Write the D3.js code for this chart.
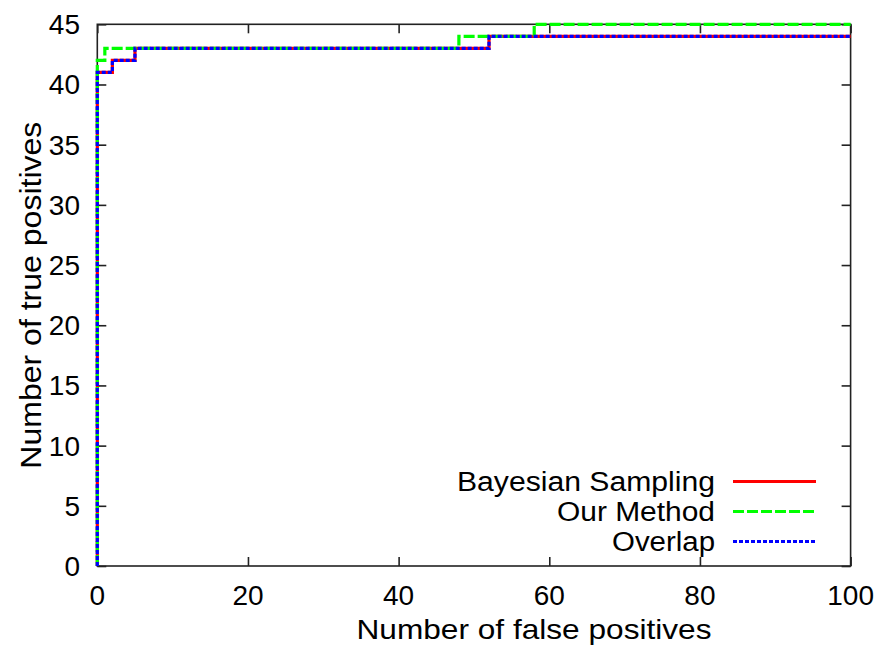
<!DOCTYPE html>
<html>
<head>
<meta charset="utf-8">
<script src="https://cdn.jsdelivr.net/npm/d3@7"></script>
<style>
  html, body { margin: 0; padding: 0; background: #fff; }
  svg { display: block; font-family: "Liberation Sans", Arial, sans-serif; }
</style>
</head>
<body>
<svg id="chart" width="887" height="646"></svg>
<script>
// ---- data ----
const bayesFP = [0, 0, 2, 5, 52, 100];
const bayesTP = [0, 41, 42, 43, 44, 44];
const oursFP = [0, 0, 1, 48, 58, 100];
const oursTP = [0, 42, 43, 44, 45, 45];
const overlapFP = [0, 0, 2, 5, 52, 100];
const overlapTP = [0, 41, 42, 43, 44, 44];
const seriesNames = ["Bayesian Sampling", "Our Method", "Overlap"];
const xTicks = [0, 20, 40, 60, 80, 100];
const yTicks = [0, 5, 10, 15, 20, 25, 30, 35, 40, 45];
const xTitle = "Number of false positives";
const yTitle = "Number of true positives";

const svg = d3.select("#chart");
const L = 97.3, R = 850.6, T = 24.3, B = 566;
const x = d3.scaleLinear().domain([0, 100]).range([L, R]);
const y = d3.scaleLinear().domain([0, 45]).range([B, T]);
const tickLen = 9;

// border
svg.append("rect").attr("x", L).attr("y", T).attr("width", R - L).attr("height", B - T)
  .attr("fill", "none").attr("stroke", "#222").attr("stroke-width", 1.6);

// axes with inward ticks + mirrored
const gx = svg.append("g").attr("transform", `translate(0,${B})`)
  .call(d3.axisTop(x).tickValues(xTicks).tickSize(tickLen).tickFormat(""));
const gxTop = svg.append("g").attr("transform", `translate(0,${T})`)
  .call(d3.axisBottom(x).tickValues(xTicks).tickSize(tickLen).tickFormat(""));
const gy = svg.append("g").attr("transform", `translate(${L},0)`)
  .call(d3.axisRight(y).tickValues(yTicks).tickSize(tickLen).tickFormat(""));
const gyR = svg.append("g").attr("transform", `translate(${R},0)`)
  .call(d3.axisLeft(y).tickValues(yTicks).tickSize(tickLen).tickFormat(""));
[gx, gxTop, gy, gyR].forEach(g => {
  g.select(".domain").remove();
  g.selectAll(".tick line").attr("stroke", "#222").attr("stroke-width", 1.6);
});

// tick labels
svg.append("g").selectAll("text").data(xTicks).join("text")
  .attr("x", d => x(d)).attr("y", 605).attr("text-anchor", "middle")
  .attr("font-size", 28).attr("fill", "#000").text(d => d);
svg.append("g").selectAll("text").data(yTicks).join("text")
  .attr("x", 80).attr("y", d => y(d) + 10).attr("text-anchor", "end")
  .attr("font-size", 28).attr("fill", "#000").text(d => d);

// axis titles
svg.append("text").attr("x", 534).attr("y", 639).attr("text-anchor", "middle")
  .attr("font-size", 28).attr("textLength", 355).attr("lengthAdjust", "spacingAndGlyphs")
  .text(xTitle);
svg.append("text").attr("transform", `translate(41,${(T + B) / 2}) rotate(-90)`)
  .attr("text-anchor", "middle").attr("font-size", 29)
  .attr("textLength", 347).attr("lengthAdjust", "spacingAndGlyphs")
  .text(yTitle);

// lines
const line = d3.line().x(d => x(d[0])).y(d => y(d[1])).curve(d3.curveStepAfter);
const zip = (a, b) => a.map((v, i) => [v, b[i]]);
const series = [
  { name: seriesNames[0], pts: zip(bayesFP, bayesTP), color: "#ff0000", dash: null },
  { name: seriesNames[1], pts: zip(oursFP, oursTP), color: "#00ff00", dash: "11,3" },
  { name: seriesNames[2], pts: zip(overlapFP, overlapTP), color: "#0000ff", dash: "4,2" }
];
series.forEach(s => {
  svg.append("path").attr("d", line(s.pts)).attr("fill", "none")
    .attr("stroke", s.color).attr("stroke-width", 3.2)
    .attr("stroke-dasharray", s.dash);
});

// legend
const legY = [481.5, 511.5, 541.5];
const legW = [258, 158, 103];
series.forEach((s, i) => {
  svg.append("text").attr("x", 715).attr("y", legY[i] + 9.5).attr("text-anchor", "end")
    .attr("font-size", 27).attr("fill", "#000")
    .attr("textLength", legW[i]).attr("lengthAdjust", "spacingAndGlyphs").text(s.name);
  svg.append("line").attr("x1", 733).attr("x2", 816).attr("y1", legY[i]).attr("y2", legY[i])
    .attr("stroke", s.color).attr("stroke-width", 3.2).attr("stroke-dasharray", s.dash);
});
</script>
</body>
</html>
